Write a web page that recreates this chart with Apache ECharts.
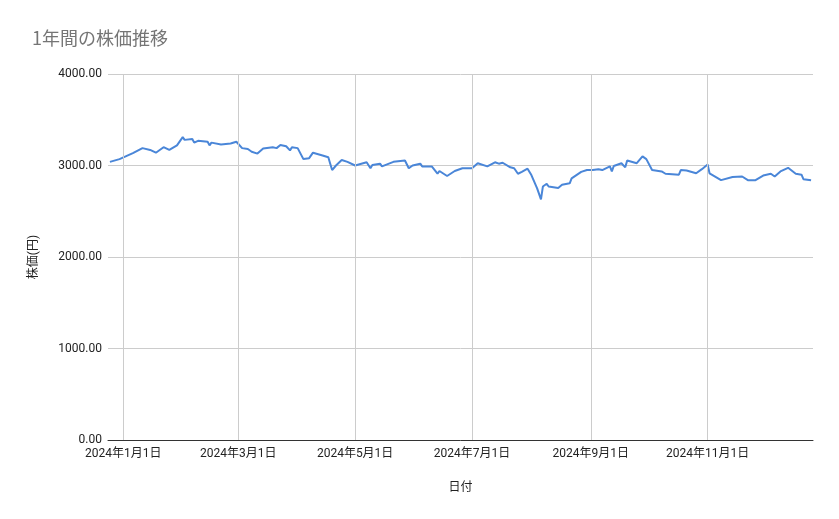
<!DOCTYPE html>
<html><head><meta charset="utf-8">
<script src="https://cdn.jsdelivr.net/npm/echarts@6/dist/echarts.min.js"></script>
<style>html,body{margin:0;padding:0;background:#fff}#c{width:839px;height:519px}</style>
</head><body><div id="c"></div>
<script>
const dates = ["2023-12-25","2023-12-30","2024-01-06","2024-01-11","2024-01-15","2024-01-18","2024-01-22","2024-01-25","2024-01-29","2024-02-01","2024-02-02","2024-02-06","2024-02-07","2024-02-09","2024-02-14","2024-02-15","2024-02-16","2024-02-21","2024-02-26","2024-02-27","2024-02-29","2024-03-03","2024-03-06","2024-03-08","2024-03-11","2024-03-14","2024-03-19","2024-03-21","2024-03-23","2024-03-26","2024-03-28","2024-03-29","2024-04-01","2024-04-04","2024-04-07","2024-04-09","2024-04-14","2024-04-17","2024-04-18","2024-04-19","2024-04-21","2024-04-24","2024-04-27","2024-04-28","2024-05-01","2024-05-07","2024-05-09","2024-05-10","2024-05-14","2024-05-15","2024-05-21","2024-05-27","2024-05-29","2024-05-31","2024-06-04","2024-06-05","2024-06-10","2024-06-13","2024-06-14","2024-06-18","2024-06-22","2024-06-26","2024-07-01","2024-07-04","2024-07-09","2024-07-13","2024-07-15","2024-07-17","2024-07-21","2024-07-23","2024-07-25","2024-07-27","2024-07-30","2024-08-01","2024-08-04","2024-08-06","2024-08-07","2024-08-09","2024-08-10","2024-08-15","2024-08-16","2024-08-17","2024-08-21","2024-08-22","2024-08-27","2024-08-30","2024-09-02","2024-09-05","2024-09-07","2024-09-11","2024-09-12","2024-09-13","2024-09-17","2024-09-19","2024-09-20","2024-09-25","2024-09-28","2024-09-30","2024-10-03","2024-10-08","2024-10-10","2024-10-17","2024-10-18","2024-10-21","2024-10-26","2024-10-29","2024-11-01","2024-11-02","2024-11-08","2024-11-09","2024-11-14","2024-11-19","2024-11-22","2024-11-26","2024-11-30","2024-12-04","2024-12-06","2024-12-09","2024-12-13","2024-12-17","2024-12-20","2024-12-21","2024-12-25"];
const prices = [3040,3070,3135,3190,3170,3140,3200,3170,3220,3310,3280,3290,3250,3270,3260,3220,3250,3230,3240,3225,3260,3190,3180,3150,3130,3185,3200,3190,3225,3210,3165,3200,3190,3070,3080,3140,3110,3090,3020,2950,3000,3060,3040,3050,3000,3035,2970,3005,3020,2990,3040,3055,2970,3000,3020,2990,2990,2910,2940,2885,2940,2970,2970,3025,2990,3035,3020,3030,2980,2970,2910,2930,2965,2895,2750,2630,2770,2800,2770,2755,2770,2790,2805,2860,2930,2950,2950,2960,2950,2990,2935,2995,3025,2980,3055,3025,3100,3070,2950,2935,2910,2900,2950,2945,2915,2960,3010,2915,2840,2850,2875,2880,2840,2840,2890,2910,2880,2935,2975,2910,2900,2850,2840];
const xTicks = ["2024-01-01","2024-03-01","2024-05-01","2024-07-01","2024-09-01","2024-11-01"];
const xMin = "2023-12-24", xMax = "2024-12-26";
const t = s => new Date(s + "T00:00:00").getTime();
const tickTimes = xTicks.map(t);
const font = "Roboto, 'Noto Sans CJK JP', sans-serif";
const chart = echarts.init(document.getElementById('c'));
chart.setOption({
  animation:false,
  title:{text:'1年間の株価推移',left:27,top:24,textStyle:{color:'#757575',fontSize:18,fontWeight:'normal',fontFamily:"'Noto Sans CJK JP', sans-serif"}},
  grid:{left:108,right:26,top:74,bottom:79},
  xAxis:{type:'value',min:t(xMin),max:t(xMax),name:'日付',nameLocation:'middle',nameGap:42,
    nameTextStyle:{fontSize:12,color:'#222',fontFamily:font},
    axisLine:{show:true,onZero:false,lineStyle:{color:'#333'}},axisTick:{show:false,customValues:tickTimes},
    axisLabel:{customValues:tickTimes,color:'#222',fontSize:12,fontFamily:font,margin:8,
      formatter:v=>{const d=new Date(v);return d.getFullYear()+'年'+(d.getMonth()+1)+'月'+d.getDate()+'日';}},
    splitLine:{show:false}},
  yAxis:{type:'value',min:0,max:4000,interval:1000,name:'株価(円)',nameLocation:'middle',nameGap:68,
    nameTextStyle:{fontSize:12,color:'#222',fontFamily:font},
    axisLine:{show:false},axisTick:{show:false},
    axisLabel:{color:'#222',fontSize:12,fontFamily:font,margin:6,formatter:v=>v.toFixed(2)},
    splitLine:{lineStyle:{color:'#cccccc'}}},
  series:[{type:'line',data:dates.map((d,i)=>[t(d),prices[i]]),showSymbol:false,
    lineStyle:{color:'#4a86d8',width:2},itemStyle:{color:'#4a86d8'},
    markLine:{silent:true,symbol:'none',label:{show:false},lineStyle:{color:'#cccccc',type:'solid',width:1},
      data:tickTimes.map(x=>({xAxis:x}))},z:3}]
});
</script></body></html>
